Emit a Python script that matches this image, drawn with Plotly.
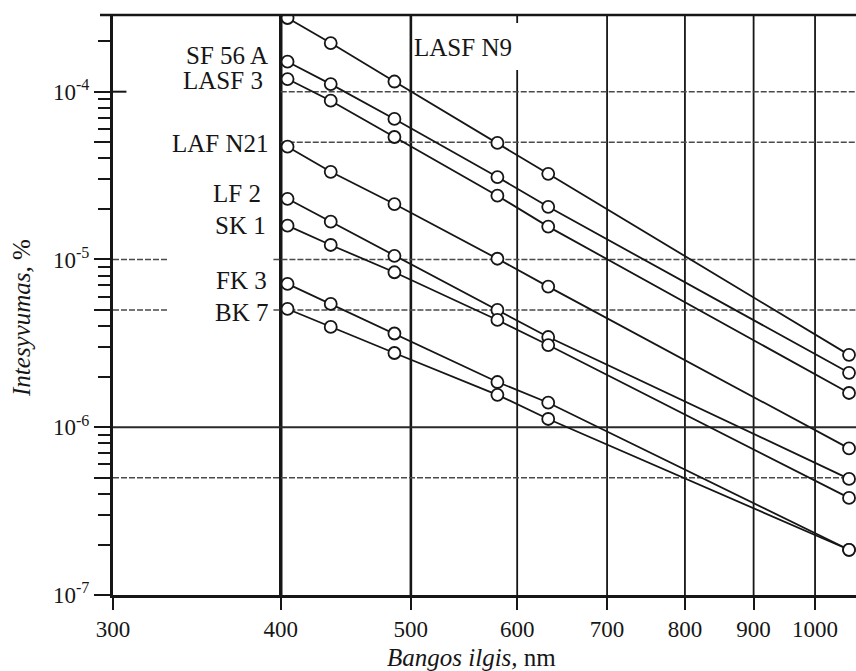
import math
import plotly.graph_objects as go

# ---------------- data ----------------
wavelengths_nm = [404.7, 435.8, 486.1, 580.0, 632.8, 1060.0]

glass_names = ["LASF N9", "SF 56 A", "LASF 3", "LAF N21", "LF 2", "SK 1", "FK 3", "BK 7"]

lasf_n9 = [2.75e-4, 1.95e-4, 1.15e-4, 4.95e-5, 3.24e-5, 2.70e-6]
sf_56_a = [1.51e-4, 1.11e-4, 6.88e-5, 3.10e-5, 2.06e-5, 2.11e-6]
lasf_3 = [1.19e-4, 8.84e-5, 5.37e-5, 2.40e-5, 1.57e-5, 1.60e-6]
laf_n21 = [4.70e-5, 3.33e-5, 2.14e-5, 1.01e-5, 6.89e-6, 7.48e-7]
lf_2 = [2.30e-5, 1.68e-5, 1.05e-5, 5.00e-6, 3.45e-6, 4.92e-7]
sk_1 = [1.59e-5, 1.22e-5, 8.39e-6, 4.36e-6, 3.09e-6, 3.79e-7]
fk_3 = [7.15e-6, 5.43e-6, 3.62e-6, 1.86e-6, 1.40e-6, 1.86e-7]
bk_7 = [5.07e-6, 3.96e-6, 2.77e-6, 1.56e-6, 1.12e-6, 1.86e-7]

series_values = [lasf_n9, sf_56_a, lasf_3, laf_n21, lf_2, sk_1, fk_3, bk_7]

x_tick_values = [300, 400, 500, 600, 700, 800, 900, 1000]
x_tick_labels = ["300", "400", "500", "600", "700", "800", "900", "1000"]
y_tick_values = [1e-7, 5e-7, 1e-6, 5e-6, 1e-5, 5e-5, 1e-4]
y_tick_labels = ["10<sup>-7</sup>", "", "10<sup>-6</sup>", "", "10<sup>-5</sup>", "", "10<sup>-4</sup>"]

x_title = "<i>Bangos ilgis,</i> nm"
y_title = "<i>Intesyvumas,</i> %"

# ---------------- styling ----------------
FONT = "Liberation Serif, Times New Roman, serif"
INK = "#161616"
X_RANGE = [math.log10(300), 3.0305]
Y_RANGE = [-7.0, -3.5428]
XMIN, XMAX = 10 ** X_RANGE[0], 10 ** X_RANGE[1]
YMIN, YMAX = 10 ** Y_RANGE[0], 10 ** Y_RANGE[1]

fig = go.Figure()

def seg(x, y, width, color=INK, dash="solid"):
    fig.add_trace(go.Scatter(x=x, y=y, mode="lines", hoverinfo="skip", showlegend=False,
                             line=dict(color=color, width=width, dash=dash)))

# vertical grid lines
v_widths = {400: 3.5, 500: 2.6, 600: 1.8, 700: 1.8, 800: 1.8, 900: 1.8, 1000: 1.8}
for xv, w in v_widths.items():
    if xv == 600:
        # interrupted behind the "LASF N9" label
        seg([xv, xv, None, xv, xv], [YMIN, 10 ** -3.8707, None, 10 ** -3.5905, YMAX], w)
    else:
        seg([xv, xv], [YMIN, YMAX], w)

# horizontal grid lines
GRAY = "#4a4a4a"
for yv in [1e-4, 5e-5]:
    seg([400, XMAX], [yv, yv], 1.5, GRAY, "6px,2px")
for yv in [1e-5, 5e-6]:
    seg([XMIN, 330, None, 395, XMAX], [yv, yv, None, yv, yv], 1.5, GRAY, "6px,2px")
seg([XMIN, XMAX], [1e-6, 1e-6], 2.0, "#2a2a2a")
seg([XMIN, XMAX], [5e-7, 5e-7], 1.5, GRAY, "6px,2px")
# inner part of the 10^-4 major tick
seg([XMIN, 307], [1e-4, 1e-4], 2.0)

# data series
for name, vals in zip(glass_names, series_values):
    fig.add_trace(go.Scatter(
        x=wavelengths_nm, y=vals, name=name, mode="lines+markers", showlegend=False,
        line=dict(color=INK, width=1.8),
        marker=dict(symbol="circle", size=12, color="white", line=dict(color=INK, width=1.8)),
    ))

# series labels next to the first points
label_shift = {
    "SF 56 A": (-18, 6.5), "LASF 3": (-23, -1.5), "LAF N21": (-17, 3.0), "LF 2": (-25, 5.5),
    "SK 1": (-20, 0.0), "FK 3": (-19, 3.3), "BK 7": (-18, -4.0),
}
for name, vals in zip(glass_names, series_values):
    if name in label_shift:
        dx, dy = label_shift[name]
        fig.add_annotation(x=math.log10(wavelengths_nm[0]), y=math.log10(vals[0]), xref="x", yref="y",
                           text=name, showarrow=False, xanchor="right", yanchor="middle",
                           xshift=dx, yshift=dy, font=dict(family=FONT, size=25, color=INK))
fig.add_annotation(x=math.log10(500), y=-3.7365, xref="x", yref="y", text="LASF N9",
                   showarrow=False, xanchor="left", yanchor="middle", xshift=1,
                   font=dict(family=FONT, size=25, color=INK))

# axis titles
fig.add_annotation(x=0.482, y=-0.1086, xref="paper", yref="paper", text=x_title, showarrow=False,
                   xanchor="center", yanchor="middle", font=dict(family=FONT, size=25, color=INK))
fig.add_annotation(x=-0.1225, y=0.4776, xref="paper", yref="paper", text=y_title, showarrow=False,
                   textangle=-90, xanchor="center", yanchor="middle",
                   font=dict(family=FONT, size=25, color=INK))

# top frame line extending a little to the left
fig.add_shape(type="line", xref="paper", yref="paper", x0=-13 / 743, x1=1, y0=1, y1=1,
              line=dict(color=INK, width=2.6))

minor_y = [m * 10 ** d for d in range(-7, -3) for m in (2, 3, 4, 6, 7, 8, 9)]

fig.update_layout(
    width=856, height=671,
    margin=dict(l=113, r=0, t=15, b=76),
    paper_bgcolor="white", plot_bgcolor="white",
    font=dict(family=FONT, size=23, color=INK),
    xaxis=dict(type="log", range=X_RANGE, showgrid=False, zeroline=False,
               tickmode="array", tickvals=x_tick_values, ticktext=x_tick_labels,
               ticks="outside", ticklen=12, tickwidth=2.2, tickcolor=INK,
               showline=True, linecolor=INK, linewidth=2.6, mirror=False,
               tickfont=dict(family=FONT, size=23, color=INK)),
    yaxis=dict(type="log", range=Y_RANGE, showgrid=False, zeroline=False,
               tickmode="array", tickvals=y_tick_values, ticktext=y_tick_labels,
               ticks="outside", ticklen=16, tickwidth=2.2, tickcolor=INK,
               showline=True, linecolor=INK, linewidth=3, mirror=False,
               tickfont=dict(family=FONT, size=23, color=INK),
               minor=dict(tickmode="array", tickvals=minor_y, ticks="outside", ticklen=12,
                          tickwidth=2, tickcolor=INK, showgrid=False)),
)

fig.write_html(
    "out.html",
    config={"displayModeBar": False},
    post_script="document.body.style.margin='0';document.body.style.overflow='hidden';",
)
